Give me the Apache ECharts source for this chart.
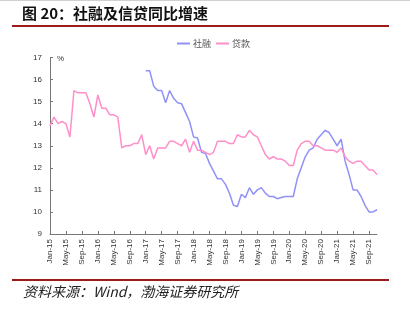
<!DOCTYPE html>
<html>
<head>
<meta charset="utf-8">
<script src="https://cdn.jsdelivr.net/npm/echarts@6/dist/echarts.min.js"></script>
<style type="text/css">
html,body{margin:0;padding:0;background:#fff;}
#chart_main{width:410px;height:313px;}
</style>
</head>
<body>
<div id="chart_main"></div>
<script type="text/javascript">
var months = ['Jan','Feb','Mar','Apr','May','Jun','Jul','Aug','Sep','Oct','Nov','Dec'];
var years = ['15','16','17','18','19','20','21'];

// 贷款余额同比 (Jan-15 .. Nov-21)
var loan = [
	13.9, 14.3, 14.0, 14.1, 14.0, 13.4, 15.5, 15.4, 15.4, 15.4, 14.9, 14.3,
	15.3, 14.7, 14.7, 14.4, 14.4, 14.3, 12.9, 13.0, 13.0, 13.1, 13.1, 13.5,
	12.6, 13.0, 12.4, 12.9, 12.9, 12.9, 13.2, 13.2, 13.1, 13.0, 13.3, 12.7,
	13.2, 12.8, 12.8, 12.7, 12.6, 12.7, 13.2, 13.2, 13.2, 13.1, 13.1, 13.5,
	13.4, 13.4, 13.7, 13.5, 13.4, 13.0, 12.6, 12.4, 12.5, 12.4, 12.4, 12.3,
	12.1, 12.1, 12.8, 13.1, 13.2, 13.2, 13.0, 13.0, 12.9, 12.8, 12.8, 12.8,
	12.7, 12.9, 12.5, 12.3, 12.2, 12.3, 12.3, 12.1, 11.9, 11.9, 11.7
];

// 社融存量同比 (starts Jan-17)
var tsf = [
	null, null, null, null, null, null, null, null, null, null, null, null,
	null, null, null, null, null, null, null, null, null, null, null, null,
	16.4, 16.4, 15.7, 15.5, 15.5, 14.95, 15.5, 15.15, 14.95, 14.9, 14.5, 14.1,
	13.4, 13.35, 12.7, 12.65, 12.2, 11.85, 11.5, 11.5, 11.25, 10.85, 10.3, 10.25,
	10.8, 10.65, 11.1, 10.8, 11.0, 11.1, 10.85, 10.7, 10.7, 10.6, 10.65, 10.7,
	10.7, 10.7, 11.5, 12.0, 12.5, 12.8, 12.9, 13.3, 13.5, 13.7, 13.6, 13.3,
	13.0, 13.3, 12.3, 11.7, 11.0, 11.0, 10.7, 10.3, 10.0, 10.0, 10.1
];

var cats = [];
for (var i = 0; i < loan.length; i++) {
	cats.push(months[i % 12] + '-' + years[Math.floor(i / 12)]);
}

var myChart = echarts.init(document.getElementById('chart_main'));
var option = {
	backgroundColor: '#fff',
	animation: false,
	graphic: [
		{type:'rect', shape:{x:0, y:0, width:410, height:1}, style:{fill:'#d0d0d0'}},
		{type:'text', left:22, top:6, style:{text:'图 20：社融及信贷同比增速', font:'bold 15px "Noto Sans CJK SC"', fill:'#111'}},
		{type:'rect', shape:{x:12, y:25, width:377, height:2}, style:{fill:'#9e1b1b'}},
		{type:'text', left:57, top:55, style:{text:'%', font:'8px "Liberation Sans"', fill:'#333'}},
		{type:'rect', shape:{x:12, y:279, width:377, height:2}, style:{fill:'#9e1b1b'}},
		{type:'text', left:23, top:285, style:{text:'资料来源：Wind，渤海证券研究所', font:'italic 14px "Noto Sans CJK SC"', fill:'#222'}}
	],
	legend: {
		top: 34,
		left: 177,
		padding: [5, 0, 0, 0],
		icon: 'rect',
		itemWidth: 13,
		itemHeight: 2,
		itemGap: 5,
		textStyle: {fontSize: 9, color: '#555', fontFamily: 'Noto Sans CJK SC', padding: [0, 0, 0, -2]},
		data: ['社融', '贷款']
	},
	grid: {left: 50, right: 33, top: 57.5, bottom: 79},
	xAxis: {
		type: 'category',
		data: cats,
		boundaryGap: false,
		axisLine: {lineStyle: {color: '#777'}},
		axisTick: {inside: true, length: 3, interval: 3, lineStyle: {color: '#777'}},
		axisLabel: {interval: 3, rotate: 90, fontSize: 8, color: '#333', margin: 5, fontFamily: 'Liberation Sans'},
		splitLine: {show: false}
	},
	yAxis: {
		type: 'value',
		min: 9,
		max: 17,
		interval: 1,
		axisLine: {show: true, lineStyle: {color: '#777'}},
		axisTick: {show: true, inside: true, length: 3, lineStyle: {color: '#777'}},
		axisLabel: {fontSize: 8, color: '#333', margin: 8, fontFamily: 'Liberation Sans'},
		splitLine: {show: false}
	},
	series: [
		{name: '社融', type: 'line', data: tsf, showSymbol: false, symbol: 'none',
			lineStyle: {width: 1.5, color: '#9191f7'}, itemStyle: {color: '#9191f7'}},
		{name: '贷款', type: 'line', data: loan, showSymbol: false, symbol: 'none',
			lineStyle: {width: 1.5, color: '#ff8fc9'}, itemStyle: {color: '#ff8fc9'}}
	]
};
myChart.setOption(option);
</script>
</body>
</html>
